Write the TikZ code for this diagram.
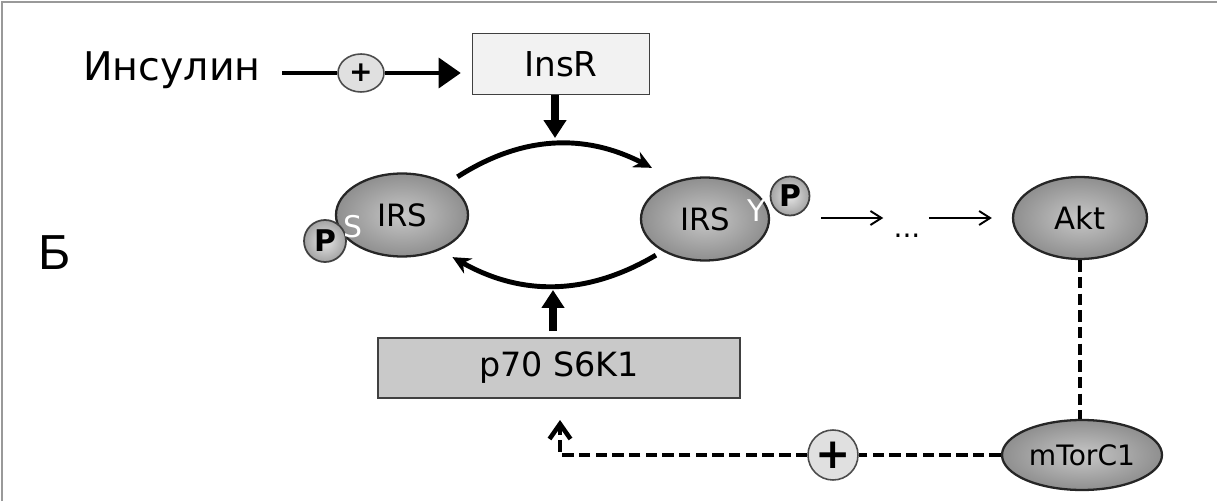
\documentclass[tikz,border=0pt]{standalone}
\usepackage{fontspec}
\setmainfont{DejaVu Sans}
\newfontfamily\letterfont{Liberation Sans}
\usetikzlibrary{positioning, shapes.geometric, arrows.meta}

\begin{document}
\begin{tikzpicture}[
	x=0.02cm, y=0.02cm,
	>=Stealth,
	box/.style={rectangle, draw=black!75, line width=0.9pt, inner sep=0pt},
	protein/.style={ellipse, draw=black!85, line width=1.3pt, shading=radial,
		inner color=black!22, outer color=black!44, inner sep=0pt,
		minimum width=2.64cm, minimum height=1.66cm, font=\fontsize{17.5}{20}\selectfont},
	phospho/.style={circle, draw=black!75, line width=1pt, shading=radial,
		inner color=black!10, outer color=black!36, inner sep=0pt,
		minimum size=0.84cm, font=\bfseries\fontsize{17}{19}\selectfont},
	site/.style={text=white, inner sep=0pt, font=\fontsize{17}{19}\selectfont},
	plus/.style={draw=black!70, line width=0.9pt, fill=black!12, inner sep=0pt},
	link/.style={line width=1.9pt},
	arrow/.style={link, -{Triangle[length=0.44cm, width=0.6cm]}},
	bigarrow/.style={line width=4.5pt, -{Triangle[length=0.36cm, width=0.44cm]}},
	turnover/.style={line width=2.8pt, -{Stealth[length=0.36cm, width=0.34cm]}},
	signal/.style={line width=1.1pt, -{Straight Barb[length=0.22cm, width=0.28cm]}},
	dashline/.style={line width=2.6pt, dash pattern=on 6.5pt off 3pt}
	]
	
	% frame
	\useasboundingbox (0,0) rectangle (1217,501);
	\draw[black!40, line width=1pt] (2,0) -- (2,499) -- (1217,499);
	
	% Insulin and receptor
	\node[inner sep=0pt, minimum width=3.9cm, font=\fontsize{22.5}{26}\selectfont] (insulin) at (172,431) {Инсулин};
	\node[plus, ellipse, minimum width=0.92cm, minimum height=0.76cm, font=\bfseries\fontsize{16}{18}\selectfont] (plusA) at (361,428) {+};
	\node[box, fill=black!5, minimum width=3.54cm, minimum height=1.22cm, font=\fontsize{19.5}{22}\selectfont] (insr) at (561,437) {InsR};
	
	% IRS cycle
	\node[protein] (irsL) at (402,286) {IRS};
	\node[phospho] (pL) at (325,260) {P};
	\node[site] (sL) at (353,274) {S};
	\node[protein, minimum width=2.56cm] (irsR) at (705,282) {IRS};
	\node[site] (yR) at (757,290) {Y};
	\node[phospho, minimum size=0.78cm] (pR) at (790,305) {P};
	
	% downstream
	\node[inner sep=0pt, font=\fontsize{16}{18}\selectfont] (dots) at (907,265) {...};
	\node[protein, minimum width=2.68cm, minimum height=1.64cm] (akt) at (1080,283) {Akt};
	\node[protein, minimum width=3.2cm, minimum height=1.4cm, font=\fontsize{16}{19}\selectfont] (mtor) at (1082,46) {mTorC1};
	\node[plus, circle, minimum size=1.0cm, font=\bfseries\fontsize{24}{26}\selectfont] (plusB) at (833,46) {+};
	\node[box, fill=black!21, minimum width=7.24cm, minimum height=1.2cm, font=\fontsize{19}{22}\selectfont] (p70) at (559,133) {p70 S6K1};
	
	\node[font=\letterfont\fontsize{28}{32}\selectfont] (label) at (55,248) {Б};
	
	\coordinate (inTop) at (555,363);
	\coordinate (inBot) at (553,211);
	\coordinate (turn) at (560,46);
	\coordinate (s6k) at (560,81);
	
	% insulin signal
	\draw[link, shorten <=0.25cm] (insulin.east |- plusA.west) -- (plusA.west);
	\draw[arrow, shorten >=0.22cm] (plusA.east) -- (plusA.east -| insr.west);
	\draw[bigarrow] (insr.south -| inTop) -- (inTop);
	\draw[bigarrow, shorten <=0.12cm] (p70.north -| inBot) -- (inBot);
	
	% phosphorylation cycle
	\draw[turnover] ([shift={(8,8)}]irsL.north east) to[bend left=30] ([shift={(-7,21)}]irsR.north west);
	\draw[turnover] ([shift={(-3,-6)}]irsR.south west) to[bend left=30] ([shift={(3,-12)}]irsL.south east);
	
	% towards Akt
	\draw[signal, shorten <=0.22cm, shorten >=0.2cm] (pR.east |- akt) -- (dots.west |- akt);
	\draw[signal, shorten <=0.16cm, shorten >=0.4cm] (dots.east |- akt) -- (akt);
	
	% feedback through mTorC1
	\draw[dashline] (akt) -- (akt |- mtor.north);
	\draw[dashline] (mtor) -- (plusB);
	\draw[dashline, -{Straight Barb[length=0.3cm, width=0.42cm]}] (plusB) -- (turn) -- (s6k);
	
\end{tikzpicture}
\end{document}
